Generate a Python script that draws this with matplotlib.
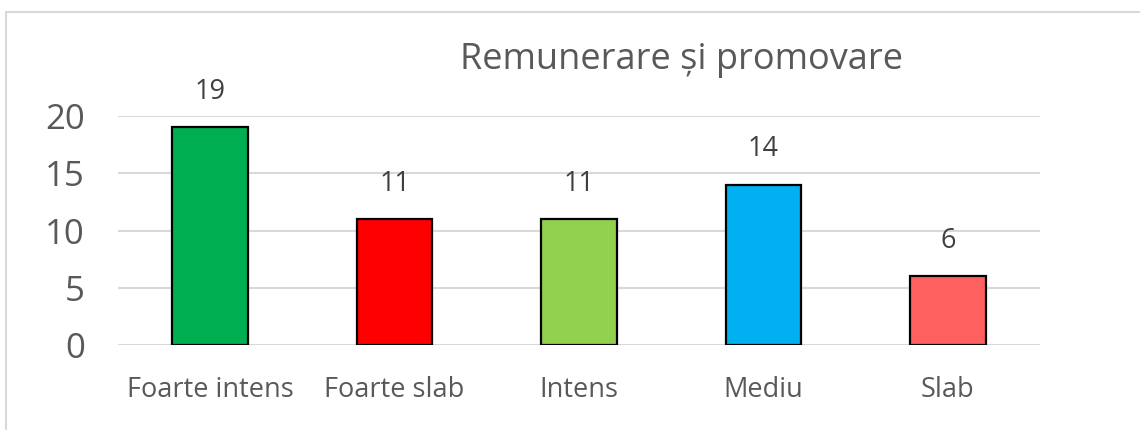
import matplotlib
matplotlib.use("Agg")
import matplotlib.pyplot as plt
from matplotlib.patches import Rectangle

categories = ["Foarte intens", "Foarte slab", "Intens", "Mediu", "Slab"]
values = [19, 11, 11, 14, 6]
colors = ["#00B050", "#FF0000", "#92D050", "#00B0F0", "#FF6161"]
yticks = [0, 5, 10, 15, 20]
title = "Remunerare și promovare"

plt.rcParams['font.family'] = ['Open Sans', 'DejaVu Sans']
text_color = "#595959"

fig = plt.figure(figsize=(11.4, 4.3), dpi=100)
fig.patches.append(Rectangle((6/1140, -0.1), 1.2, (430-12)/430 + 0.1,
                             transform=fig.transFigure, fill=False,
                             edgecolor="#d9d9d9", linewidth=1.5))

ax = fig.add_axes([118/1140, (430-345)/430, (1040-118)/1140, (345-116)/430])
x = list(range(len(categories)))
bars = ax.bar(x, values, width=0.41, color=colors, edgecolor="black", linewidth=1.6, zorder=3)
ax.set_xlim(-0.5, len(categories) - 0.5)
ax.set_ylim(0, 20)
ax.set_yticks(yticks)
ax.set_yticklabels([str(v) for v in yticks], fontsize=25, color=text_color)
ax.set_xticks(x)
ax.set_xticklabels(categories, fontsize=19.5, color=text_color)
ax.tick_params(axis='y', length=0, pad=24)
ax.tick_params(axis='x', length=0, pad=22)
ax.grid(axis='y', color="#d9d9d9", linewidth=1.5, zorder=0)
for s in ax.spines.values():
    s.set_visible(False)
ax.set_facecolor("none")

for xi, v in zip(x, values):
    ax.annotate(str(v), (xi, v), xytext=(0, 15.5), textcoords="offset points",
                ha="center", va="bottom", fontsize=19.5, color="#404040")

fig.text(681/1140, (430-60)/430, title, ha="center", va="center", fontsize=26, color=text_color)

fig.savefig("out.png", dpi=100)
